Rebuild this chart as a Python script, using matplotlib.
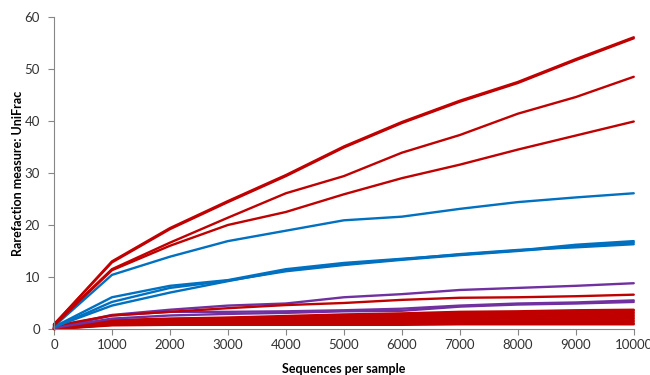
import matplotlib
matplotlib.use("Agg")
import matplotlib.pyplot as plt

x = [0, 1000, 2000, 3000, 4000, 5000, 6000, 7000, 8000, 9000, 10000]

red_high = [
    [0.8, 13.0, 19.4, 24.6, 29.6, 35.1, 39.8, 43.9, 47.5, 51.9, 56.1],
    [0.9, 12.8, 19.2, 24.4, 29.4, 34.9, 39.6, 43.7, 47.3, 51.7, 55.9],
    [0.9, 11.5, 16.6, 21.4, 26.1, 29.4, 33.9, 37.3, 41.4, 44.6, 48.5],
    [0.7, 11.3, 16.0, 20.0, 22.5, 25.9, 29.0, 31.6, 34.5, 37.2, 39.9],
]
red_mid = [0.6, 2.6, 3.3, 4.0, 4.6, 5.0, 5.6, 6.0, 6.1, 6.3, 6.6]

blue = [
    [0.5, 10.4, 13.9, 16.9, 18.9, 20.9, 21.6, 23.1, 24.4, 25.3, 26.1],
    [0.4, 6.1, 8.3, 9.4, 11.5, 12.7, 13.5, 14.3, 15.1, 16.2, 16.9],
    [0.3, 5.2, 7.9, 9.3, 11.1, 12.3, 13.3, 14.2, 15.0, 15.9, 16.6],
    [0.4, 4.5, 7.0, 9.2, 11.3, 12.5, 13.4, 14.4, 15.2, 15.7, 16.3],
]

purple = [
    [0.3, 2.7, 3.7, 4.5, 4.9, 6.1, 6.7, 7.5, 7.9, 8.3, 8.8],
    [0.2, 2.6, 3.3, 3.3, 3.4, 3.6, 3.9, 4.5, 4.9, 5.1, 5.5],
    [0.2, 2.0, 2.6, 2.9, 3.1, 3.4, 3.5, 4.3, 4.7, 4.9, 5.2],
]

red_band = [
    [0.1, 1.7, 2.0, 2.2, 2.5, 2.8, 3.0, 3.3, 3.4, 3.6, 3.7],
    [0.2, 1.6, 1.9, 2.1, 2.3, 2.6, 2.8, 3.0, 3.2, 3.3, 3.5],
    [0.1, 1.5, 1.8, 2.0, 2.2, 2.4, 2.6, 2.7, 2.9, 3.0, 3.2],
    [0.2, 1.4, 1.7, 1.8, 2.0, 2.2, 2.3, 2.5, 2.6, 2.7, 2.9],
    [0.1, 1.3, 1.5, 1.7, 1.8, 2.0, 2.1, 2.2, 2.3, 2.4, 2.6],
    [0.1, 1.2, 1.4, 1.5, 1.6, 1.7, 1.8, 1.9, 2.0, 2.1, 2.3],
    [0.0, 1.1, 1.2, 1.3, 1.4, 1.5, 1.6, 1.6, 1.7, 1.8, 2.0],
    [0.1, 1.0, 1.1, 1.2, 1.2, 1.3, 1.4, 1.4, 1.5, 1.5, 1.7],
    [0.0, 0.9, 1.0, 1.0, 1.1, 1.1, 1.2, 1.2, 1.2, 1.3, 1.4],
    [0.0, 0.8, 0.8, 0.9, 0.9, 0.9, 1.0, 1.0, 1.0, 1.0, 1.1],
    [0.0, 0.7, 0.8, 0.8, 0.8, 0.8, 0.8, 0.9, 0.9, 0.9, 0.9],
]

xticks = [0, 1000, 2000, 3000, 4000, 5000, 6000, 7000, 8000, 9000, 10000]
yticks = [0, 10, 20, 30, 40, 50, 60]

RED = "#C00000"
BLUE = "#0070C0"
PURPLE = "#7030A0"

plt.rcParams['font.family'] = ['Lato', 'DejaVu Sans']

fig = plt.figure(figsize=(6.5, 3.75), dpi=100)
ax = fig.add_axes([0.083, 0.1227, 0.892, 0.832])

lw = 1.7
for s in red_band:
    ax.plot(x, s, color=RED, lw=lw, solid_capstyle='round', clip_on=False)
for s in purple:
    ax.plot(x, s, color=PURPLE, lw=lw, solid_capstyle='round', clip_on=False)
ax.plot(x, red_mid, color=RED, lw=lw, solid_capstyle='round', clip_on=False)
for s in blue:
    ax.plot(x, s, color=BLUE, lw=lw, solid_capstyle='round', clip_on=False)
for s in red_high:
    ax.plot(x, s, color=RED, lw=lw, solid_capstyle='round', clip_on=False)

ax.set_xlim(0, 10000)
ax.set_ylim(0, 60)
ax.set_xticks(xticks)
ax.set_xticklabels([str(t) for t in xticks])
ax.set_yticks(yticks)

for side in ['top', 'right']:
    ax.spines[side].set_visible(False)
for side in ['left', 'bottom']:
    ax.spines[side].set_color('#868686')
    ax.spines[side].set_linewidth(0.8)

ax.tick_params(axis='both', colors='#868686', labelcolor='#333333',
               labelsize=9.5, length=4, width=0.8, direction='out')
ax.tick_params(axis='y', pad=6)

ax.set_xlabel('Sequences per sample', fontsize=9, fontweight='bold', labelpad=8)
ax.set_ylabel('Rarefaction measure: UniFrac', fontsize=9, fontweight='bold')
ax.yaxis.set_label_coords(-0.052, 0.5)

fig.savefig('out.png', dpi=100)
